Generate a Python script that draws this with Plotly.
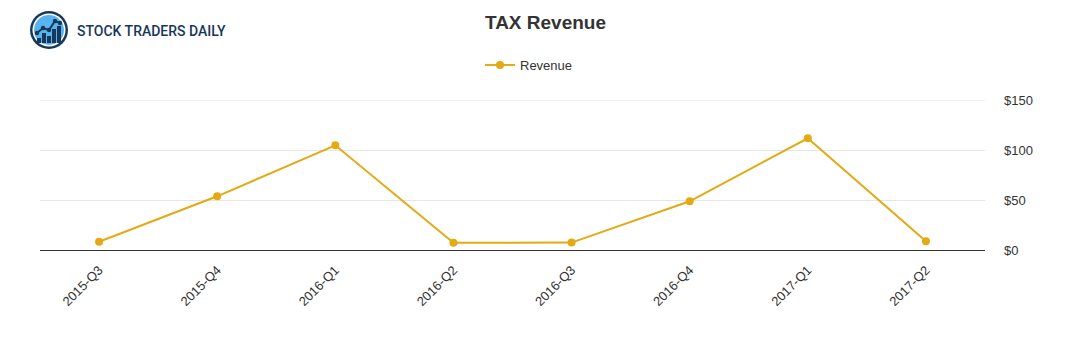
import plotly.graph_objects as go

quarters = ["2015-Q3", "2015-Q4", "2016-Q1", "2016-Q2",
            "2016-Q3", "2016-Q4", "2017-Q1", "2017-Q2"]
revenue = [8.3, 53.7, 104.7, 7.2, 7.4, 48.7, 111.7, 8.7]
y_ticks = [0, 50, 100, 150]

W, H = 1091, 350
L, R, T, B = 40, 106, 100, 100
LINE = "#e3aa14"
NAVY = "#17385a"


def px(x):
    return (x - L) / (W - L - R)


def py(y):
    return (H - B - y) / (H - T - B)


fig = go.Figure()
fig.add_trace(go.Scatter(
    x=quarters, y=revenue, mode="lines+markers", name="Revenue",
    line=dict(color=LINE, width=2),
    marker=dict(color=LINE, size=8),
))

shapes = []
# top gridline sits on the edge of the plot area
shapes.append(dict(type="line", xref="paper", yref="y", x0=0, x1=1, y0=150, y1=150,
                   line=dict(color="#e0e0e0", width=1), layer="below"))


def circ(cx, cy, r, fill):
    shapes.append(dict(type="circle", xref="paper", yref="paper",
                       x0=px(cx - r), x1=px(cx + r), y0=py(cy + r), y1=py(cy - r),
                       fillcolor=fill, line=dict(color=fill, width=0),
                       layer="above"))


# brand mark: ringed circle with a small bar chart
circ(49, 30, 19, NAVY)
circ(49, 30, 16.5, "white")
circ(49, 30, 15, "#58b4ee")
for bx, top in [(39, 38), (44, 33), (49, 36), (54, 29), (59, 26)]:
    shapes.append(dict(type="rect", xref="paper", yref="paper",
                       x0=px(bx - 2), x1=px(bx + 2), y0=py(43), y1=py(top),
                       fillcolor=NAVY, line=dict(width=0), layer="above"))
pts = [(37, 33), (43, 28), (49, 30), (55, 21), (60, 23)]
path = "M " + " L ".join(f"{px(a)},{py(b)}" for a, b in pts)
shapes.append(dict(type="path", xref="paper", yref="paper", path=path,
                   line=dict(color=NAVY, width=2), layer="above"))
for a, b in pts:
    circ(a, b, 2.2, NAVY)

fig.update_layout(
    width=W, height=H,
    margin=dict(l=L, r=R, t=T, b=B),
    paper_bgcolor="white", plot_bgcolor="white",
    font=dict(family="Liberation Sans, Arial, sans-serif", size=13, color="#333333"),
    title=dict(text="<b>TAX Revenue</b>", x=0.5, xref="container", xanchor="center",
               y=1 - 22 / H, yanchor="middle",
               font=dict(size=19, color="#333333")),
    showlegend=True,
    legend=dict(orientation="h", x=px(480), xanchor="left", y=py(65), yanchor="middle",
                font=dict(size=13, color="#333333"), itemwidth=30),
    xaxis=dict(type="category", range=[-0.5, 7.5], tickangle=-45,
               showgrid=False, showline=False, ticks="", zeroline=False,
               ticklabelstandoff=9,
               tickfont=dict(size=13, color="#333333")),
    yaxis=dict(side="right", range=[0, 150], tickvals=y_ticks,
               ticktext=[f"${v}" for v in y_ticks],
               showgrid=True, gridcolor="#e6e6e6", gridwidth=1,
               zeroline=True, zerolinecolor="#333333", zerolinewidth=1,
               showline=False, ticks="", ticklabelstandoff=18,
               tickfont=dict(size=13, color="#333333")),
    shapes=shapes,
    annotations=[dict(text="STOCK TRADERS DAILY", xref="paper", yref="paper",
                      x=px(75), y=py(31), xanchor="left", yanchor="middle",
                      showarrow=False,
                      font=dict(family="Roboto, sans-serif", size=14, weight=500,
                                color=NAVY))],
)

fig.write_html("out.html")
